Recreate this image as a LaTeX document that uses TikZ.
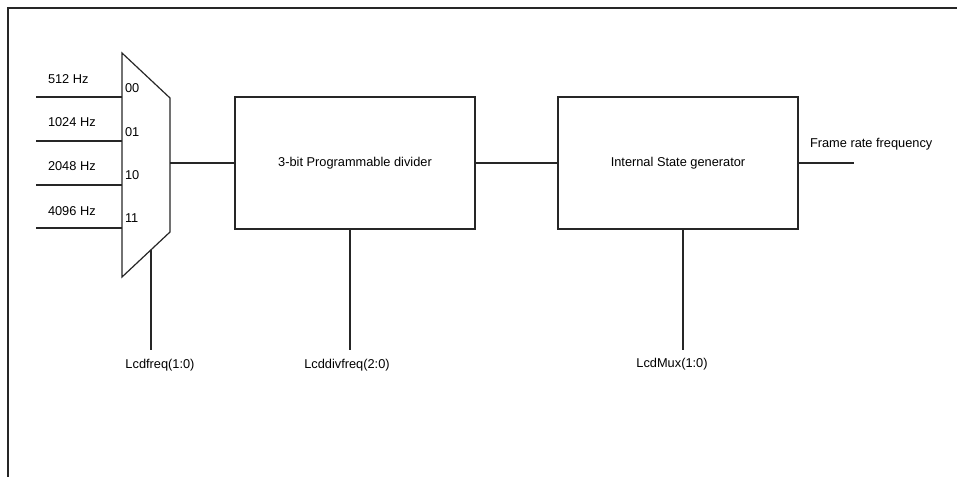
\documentclass[tikz,border=0pt]{standalone}
\usepackage{fontspec}
\setmainfont{Liberation Sans}
\begin{document}
\begin{tikzpicture}[x=1pt,y=-1pt,line width=1pt,
  every node/.style={font=\fontsize{12.8}{14}\selectfont,inner sep=0pt,outer sep=0pt},
  wire/.style={draw=black!85,line width=1.2pt},
  block/.style={draw=black!85,line width=1.2pt,minimum width=240pt,minimum height=132pt,inner sep=0pt},
  lbl/.style={anchor=west}]
\useasboundingbox (0,0) rectangle (957,477);
% frame
\draw[black!85,line width=1.2pt] (957,8) -- (8,8) -- (8,477);
% multiplexer
\coordinate (mTL) at (122,53);
\coordinate (mTR) at (170,98);
\coordinate (mBR) at (170,232);
\coordinate (mBL) at (122,277);
\draw[wire] (mTL) -- (mTR) -- (mBR) -- (mBL) -- cycle;
% inputs
\foreach \y/\i in {97/0,141/1,185/2,228/3}{
  \coordinate (in\i) at (36,\y);
  \coordinate (p\i) at (122,\y);
  \draw[wire] (in\i) -- (p\i);
}
\node[lbl] (f0) at (48,79) {512 Hz};
\node[lbl] (f1) at (48,122) {1024 Hz};
\node[lbl] (f2) at (48,166) {2048 Hz};
\node[lbl] (f3) at (48,211) {4096 Hz};
\node[lbl] (s0) at (125,88) {00};
\node[lbl] (s1) at (125,132) {01};
\node[lbl] (s2) at (125,175) {10};
\node[lbl] (s3) at (125,218) {11};
% blocks
\node[block] (div) at (355,163) {3-bit Programmable divider};
\node[block] (isg) at (678,163) {Internal State generator};
\coordinate (mout) at (170,163);
\draw[wire] (mout) -- (div.west);
\draw[wire] (div.east) -- (isg.west);
\coordinate (fout) at (854,163);
\draw[wire] (isg.east) -- (fout);
\node[lbl] (frf) at (810,144) {Frame rate frequency};
% select lines
\coordinate (msel) at (151,250);
\coordinate (mselend) at (151,350);
\draw[wire] (msel) -- (mselend);
\node (lf) at (160,365) {Lcdfreq(1:0)};
\coordinate (dsel) at (350,350);
\draw[wire] (dsel |- div.south) -- (dsel);
\node (ldf) at (347,365) {Lcddivfreq(2:0)};
\coordinate (isel) at (683,350);
\draw[wire] (isel |- isg.south) -- (isel);
\node (lmux) at (672,364) {LcdMux(1:0)};
\end{tikzpicture}
\end{document}
